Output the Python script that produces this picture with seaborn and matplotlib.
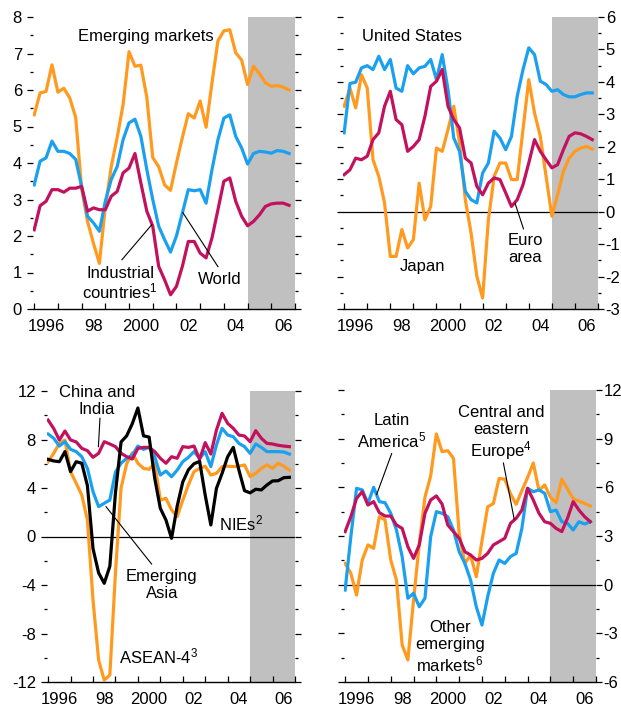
import numpy as np
import pandas as pd
import seaborn as sns
import matplotlib
matplotlib.use("Agg")
import matplotlib.pyplot as plt

plt.rcParams['font.family'] = ['Liberation Sans', 'DejaVu Sans']
plt.rcParams['mathtext.default'] = 'regular'
plt.rcParams['axes.unicode_minus'] = False

# quarterly data, 1996Q1 - 2006Q4
quarters = 1996 + np.arange(44) / 4

# panel 1
emerging = [5.32, 5.92, 5.96, 6.69, 5.94, 6.05, 5.78, 5.25, 3.3, 2.4, 1.8, 1.25,
            2.8, 3.9, 4.7, 5.6, 7.05, 6.65, 6.68, 5.8, 4.15, 3.9, 3.4, 3.25,
            4.0, 4.7, 5.35, 5.23, 5.7, 4.98, 6.2, 7.35, 7.62, 7.65, 7.02, 6.82,
            6.15, 6.65, 6.45, 6.2, 6.1, 6.12, 6.08, 6.0]
world = [3.4, 4.05, 4.14, 4.6, 4.32, 4.32, 4.26, 4.1, 3.36, 2.54, 2.36, 2.13,
         2.95, 3.55, 3.9, 4.64, 5.1, 5.2, 4.73, 3.82, 3.0, 2.27, 1.9, 1.56,
         2.0, 2.63, 3.27, 3.24, 3.27, 2.9, 3.82, 4.64, 5.23, 5.32, 4.73, 4.41,
         3.97, 4.26, 4.32, 4.3, 4.27, 4.34, 4.32, 4.26]
industrial = [2.17, 2.83, 2.95, 3.27, 3.27, 3.2, 3.31, 3.31, 3.36, 2.68, 2.77, 2.72,
              2.72, 3.09, 3.22, 3.73, 3.86, 4.26, 3.45, 2.68, 2.27, 1.17, 0.8, 0.39,
              0.62, 1.17, 1.85, 1.85, 1.53, 1.4, 1.95, 2.72, 3.5, 3.59, 2.95, 2.54,
              2.28, 2.4, 2.58, 2.81, 2.88, 2.9, 2.9, 2.84]

# panel 2
us = [2.43, 3.95, 3.99, 4.43, 4.5, 4.38, 4.79, 4.38, 4.69, 3.81, 3.71, 4.5,
      4.25, 4.43, 4.48, 4.69, 4.07, 4.84, 3.76, 2.27, 1.86, 0.63, 0.37, 0.27,
      1.19, 1.5, 2.48, 2.27, 1.91, 2.32, 3.56, 4.38, 5.05, 4.84, 4.02, 3.92,
      3.71, 3.76, 3.61, 3.54, 3.54, 3.61, 3.66, 3.66]
euro = [1.14, 1.29, 1.65, 1.6, 1.71, 2.22, 2.43, 3.25, 3.71, 2.84, 2.68, 1.86,
        2.01, 2.22, 2.94, 3.86, 4.02, 4.38, 3.25, 2.84, 2.58, 1.65, 1.5, 0.78,
        0.52, 0.88, 1.04, 0.99, 0.58, 0.16, 0.37, 0.83, 1.5, 2.22, 1.86, 1.6,
        1.35, 1.45, 1.91, 2.32, 2.43, 2.4, 2.32, 2.22]
japan = [3.25, 3.81, 3.2, 4.22, 3.81, 1.6, 1.09, 0.27, -1.38, -1.38, -0.55, -1.12,
         -0.86, 0.88, -0.25, 0.16, 1.96, 1.86, 2.53, 3.25, 2.12, 0.37, -0.66, -1.99,
         -2.66, -0.25, 1.09, 1.5, 1.5, 0.99, 0.99, 2.53, 4.07, 3.04, 2.32, 1.09,
         -0.14, 0.52, 1.24, 1.65, 1.86, 1.96, 2.01, 1.93]

# panel 3
china_india = [9.6, 8.9, 7.96, 8.7, 7.96, 7.8, 7.27, 7.08, 6.53, 6.86, 7.82, 7.63,
               7.41, 6.86, 6.58, 6.39, 7.27, 7.35, 7.35, 7.0, 6.45, 6.04, 6.58, 6.45,
               7.41, 7.35, 7.46, 6.36, 7.74, 6.8, 8.78, 10.16, 9.33, 8.92, 8.37, 8.29,
               7.82, 8.73, 8.1, 7.68, 7.63, 7.52, 7.46, 7.41]
em_asia = [8.45, 8.1, 7.46, 7.82, 7.19, 7.0, 6.58, 5.62, 3.7, 2.46, 2.74, 3.01,
           5.3, 6.04, 6.45, 6.72, 7.46, 7.19, 7.35, 6.58, 5.07, 5.4, 4.93, 5.48,
           6.17, 6.53, 7.0, 6.45, 7.0, 5.76, 7.55, 8.92, 8.37, 8.23, 7.68, 7.41,
           6.86, 7.63, 7.35, 7.0, 7.0, 7.0, 6.97, 6.8]
nies = [6.36, 6.23, 6.17, 7.0, 5.35, 6.17, 6.04, 4.2, -1.0, -3.0, -3.86, -2.45,
        3.6, 7.8, 8.3, 9.3, 10.6, 8.3, 8.2, 4.8, 2.32, 1.36, -0.15, 2.5,
        4.5, 5.5, 6.0, 6.2, 3.4, 0.95, 3.97, 5.2, 6.58, 7.35, 5.48, 3.78,
        3.6, 3.9, 3.84, 4.25, 4.58, 4.6, 4.85, 4.88]
asean4 = [6.17, 6.86, 7.68, 7.96, 5.35, 4.39, 3.42, 1.36, -5.24, -10.19, -11.84, -11.43,
          -3.0, 4.0, 6.0, 6.9, 6.04, 5.62, 5.54, 6.04, 3.0, 3.15, 2.19, 1.64,
          3.0, 4.25, 5.35, 5.62, 5.8, 5.07, 5.21, 5.76, 5.8, 5.76, 5.8, 5.9,
          4.94, 5.21, 5.62, 5.9, 5.62, 6.04, 5.8, 5.48]

# panel 4
other_em = [1.31, 0.7, -0.64, 1.52, 2.45, 2.24, 4.19, 3.99, 1.52, 0.29, -3.72, -4.64,
            -0.95, 2.5, 5.4, 6.7, 9.29, 8.2, 8.26, 7.79, 3.16, 1.31, 1.83, 0.49,
            2.7, 4.8, 5.0, 6.55, 6.5, 5.6, 4.95, 5.8, 6.6, 7.5, 5.8, 6.15,
            5.4, 5.05, 6.5, 5.9, 5.3, 5.15, 5.0, 4.85]
latam = [-0.33, 2.96, 5.94, 5.84, 5.01, 6.0, 5.12, 5.05, 4.4, 3.37, 1.73, -0.84,
         -0.53, -1.36, -0.84, 2.96, 4.5, 4.4, 4.19, 3.37, 2.03, 1.31, 0.29, -1.36,
         -2.49, -0.74, 0.7, 1.52, 1.31, 1.73, 1.93, 3.47, 5.94, 5.73, 5.84, 5.63,
         4.5, 4.6, 3.88, 3.78, 3.37, 3.88, 3.74, 3.88]
cee = [3.27, 4.19, 5.32, 5.73, 4.91, 5.12, 4.44, 4.23, 4.23, 3.68, 3.47, 2.34,
       1.62, 2.45, 4.4, 5.22, 5.47, 4.97, 3.68, 3.27, 2.86, 2.03, 1.83, 1.52,
       1.62, 1.93, 2.45, 2.65, 2.86, 3.78, 4.09, 4.6, 5.94, 5.22, 4.4, 3.88,
       3.78, 3.47, 3.27, 4.09, 5.12, 4.6, 4.19, 3.88]

year_ticks = list(range(1996, 2008))
label_years = [1996.5, 1998.5, 2000.5, 2002.5, 2004.5, 2006.5]
year_labels = ["1996", "98", "2000", "02", "04", "06"]

ORANGE = '#FF9A1F'
BLUE = '#1BA0F0'
MAGENTA = '#C2125E'
BLACK = '#000000'
SHADE = '#C0C0C0'

W, H = 621, 713


def rect(l, r, t, b):
    return [l / W, 1 - b / H, (r - l) / W, (b - t) / H]


def panel(ax, series, colors, ylim, major, minor, side, zero=True):
    ax.axvspan(2005, 2007, color=SHADE, lw=0, zorder=0.5)
    if zero:
        ax.axhline(0, color='black', lw=0.9, zorder=1.5)
    frames = [pd.DataFrame({'t': quarters, 'value': v, 'series': n}) for n, v in series]
    df = pd.concat(frames, ignore_index=True)
    names = [n for n, _ in series]
    sns.lineplot(data=df, x='t', y='value', hue='series', hue_order=names,
                 palette=dict(zip(names, colors)), legend=False, lw=2.3, ax=ax)
    ax.set_xlabel('')
    ax.set_ylabel('')
    ax.set_xlim(1995.95, 2007.0)
    ax.set_ylim(*ylim)
    ax.set_facecolor('none')
    for s in ['top', 'left', 'right']:
        ax.spines[s].set_visible(False)
    ax.spines['bottom'].set_color('black')
    ax.spines['bottom'].set_linewidth(1.0)
    ax.set_xticks(year_ticks)
    ax.set_xticklabels([])
    ax.set_xticks(label_years, minor=True)
    ax.set_xticklabels(year_labels, minor=True, fontsize=12)
    ax.tick_params(axis='x', which='major', direction='in', length=4, width=0.9, color='black')
    ax.tick_params(axis='x', which='minor', length=0, pad=7)
    ax.set_yticks(major)
    ax.set_yticks(minor, minor=True)
    ax.set_yticklabels([f"{v:g}" for v in major], fontsize=12)
    ax.tick_params(axis='y', which='both', left=True, right=True, direction='out',
                   labelleft=(side == 'left'), labelright=(side == 'right'),
                   width=0.9, color='black')
    ax.tick_params(axis='y', which='major', length=4.5, pad=(3.5 if side == 'left' else 1))
    ax.tick_params(axis='y', which='minor', length=2.5)


def leader(ax, x0, y0, x1, y1):
    ax.plot([x0, x1], [y0, y1], color='black', lw=0.8, zorder=3)


fig = plt.figure(figsize=(W / 100, H / 100), dpi=100)
fs = 12

# Panel 1
ax1 = fig.add_axes(rect(33, 295, 17, 309))
panel(ax1, [('Emerging markets', emerging), ('World', world), ('Industrial countries', industrial)],
      [ORANGE, BLUE, MAGENTA], (0, 8), np.arange(0, 9, 1), np.arange(0.5, 8, 1), 'left', zero=False)
ax1.text(2000.71, 7.46, 'Emerging markets', fontsize=fs, ha='center', va='center')
ax1.text(1999.62, 0.70, 'Industrial\ncountries$^1$', fontsize=fs, ha='center', va='center', linespacing=1.05)
leader(ax1, 1999.70, 1.35, 2000.96, 2.31)
ax1.text(2003.83, 0.80, 'World', fontsize=fs, ha='center', va='center')
leader(ax1, 2002.27, 2.64, 2003.75, 1.16)

# Panel 2
ax2 = fig.add_axes(rect(343, 598, 17, 309))
panel(ax2, [('Japan', japan), ('United States', us), ('Euro area', euro)],
      [ORANGE, BLUE, MAGENTA], (-3, 6), np.arange(-3, 7, 1), np.arange(-2.5, 6, 1), 'right')
ax2.text(1998.92, 5.39, 'United States', fontsize=fs, ha='center', va='center')
ax2.text(1999.41, -1.70, 'Japan', fontsize=fs, ha='center', va='center')
ax2.text(2003.86, -1.15, 'Euro\narea', fontsize=fs, ha='center', va='center', linespacing=1.2)
leader(ax2, 2003.41, 0.25, 2003.77, -0.53)

# Panel 3
ax3 = fig.add_axes(rect(47, 295, 391, 682))
panel(ax3, [('ASEAN-4', asean4), ('Emerging Asia', em_asia), ('China and India', china_india), ('NIEs', nies)],
      [ORANGE, BLUE, MAGENTA, BLACK], (-12, 12), np.arange(-12, 13, 4), np.arange(-10, 12, 4), 'left')
t = ax3.text(1998.18, 11.2, 'China and\nIndia', fontsize=fs, ha='center', va='center', linespacing=1.15)
t.set_clip_on(False)
leader(ax3, 1998.31, 9.75, 1998.24, 7.41)
ax3.text(2003.61, 0.54, 'NIEs$^2$', fontsize=fs, ha='left', va='baseline')
ax3.text(2001.07, -4.0, 'Emerging\nAsia', fontsize=fs, ha='center', va='center', linespacing=1.1)
leader(ax3, 1998.58, 2.46, 2000.61, -2.27)
ax3.text(1999.17, -10.46, 'ASEAN-4$^3$', fontsize=fs, ha='left', va='baseline')

# Panel 4
ax4 = fig.add_axes(rect(344, 596, 390, 682))
panel(ax4, [('Other emerging markets', other_em), ('Latin America', latam), ('Central and eastern Europe', cee)],
      [ORANGE, BLUE, MAGENTA], (-6, 12), np.arange(-6, 13, 3), np.arange(-4.5, 12, 3), 'right')
ax4.text(1998.04, 9.43, 'Latin\nAmerica$^5$', fontsize=fs, ha='center', va='center', linespacing=1.15)
leader(ax4, 1998.04, 8.08, 1997.38, 5.55)
ax4.text(2002.84, 9.31, 'Central and\neastern\nEurope$^4$', fontsize=fs, ha='center', va='center', linespacing=1.15)
leader(ax4, 2002.94, 7.5, 2003.41, 4.05)
ax4.text(2000.6, -3.88, 'Other\nemerging\nmarkets$^6$', fontsize=fs, ha='center', va='center', linespacing=1.15)

fig.savefig('out.png', dpi=100)
